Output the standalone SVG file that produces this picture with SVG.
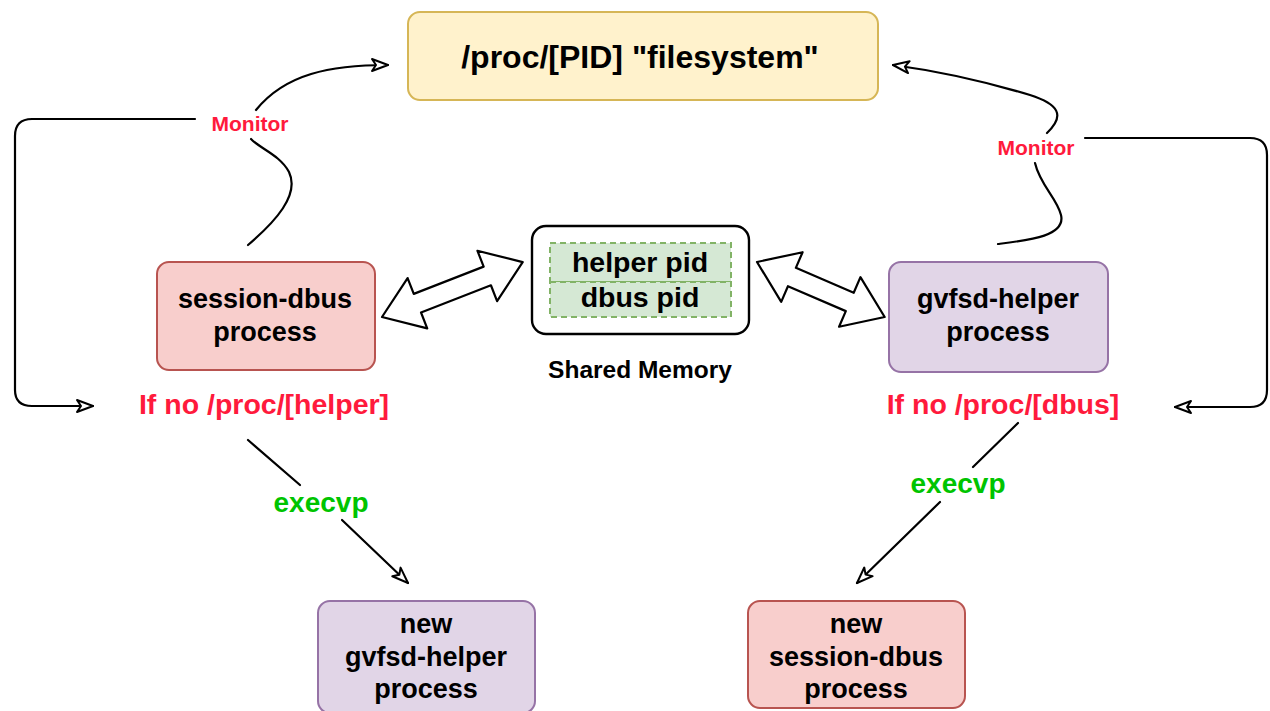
<svg xmlns="http://www.w3.org/2000/svg" width="1270" height="711" viewBox="0 0 1270 711">
<style>
text{font-family:"Liberation Sans",Arial,sans-serif;font-weight:bold;text-anchor:middle}
.t{font-size:27px;fill:#000}
.red{fill:#ff1a3c}
.grn{fill:#00c400;font-size:28px}
.mon{font-size:21px;fill:#ff1a3c}
.ln{fill:none;stroke:#000;stroke-width:2.2;stroke-linecap:round}
.blk{fill:#fff;stroke:#000;stroke-width:2.2;stroke-linejoin:round}
</style>
<defs>
<marker id="ah" markerUnits="userSpaceOnUse" markerWidth="20" markerHeight="16" viewBox="0 0 20 16" refX="18" refY="8" orient="auto">
<path d="M2,2 L18,8 L2,14 L6,8 Z" fill="#fff" stroke="#000" stroke-width="2" stroke-linejoin="round"/>
</marker>
</defs>

<g id="proc-fs">
<rect x="408" y="12" width="470" height="88" rx="12" fill="#fff2cc" stroke="#d6b656" stroke-width="2"/>
<text x="640" y="68" style="font-size:32px">/proc/[PID] "filesystem"</text>
</g>

<g id="session-dbus">
<rect x="157" y="262" width="218" height="108" rx="12" fill="#f8cecc" stroke="#b85450" stroke-width="2"/>
<text class="t" x="265" y="308">session-dbus</text>
<text class="t" x="265" y="341">process</text>
</g>

<g id="gvfsd-helper">
<rect x="889" y="262" width="219" height="110" rx="12" fill="#e1d5e7" stroke="#9673a6" stroke-width="2"/>
<text class="t" x="998" y="308">gvfsd-helper</text>
<text class="t" x="998" y="341">process</text>
</g>

<g id="shared-memory">
<rect x="532" y="226" width="217" height="108" rx="14" fill="#fff" stroke="#000" stroke-width="2.4"/>
<rect x="550" y="243" width="181" height="39" fill="#d5e8d4" stroke="#82b366" stroke-width="2" stroke-dasharray="6 4"/>
<rect x="550" y="282" width="181" height="35" fill="#d5e8d4" stroke="#82b366" stroke-width="2" stroke-dasharray="6 4"/>
<text x="640" y="272" style="font-size:28.5px">helper pid</text>
<text x="640" y="307" style="font-size:28.5px">dbus pid</text>
<text x="640" y="378" style="font-size:24.5px">Shared Memory</text>
</g>

<g id="cond-helper">
<text class="red" x="264" y="414" style="font-size:28.5px">If no /proc/[helper]</text>
</g>
<g id="cond-dbus">
<text class="red" x="1003" y="414" style="font-size:28.5px">If no /proc/[dbus]</text>
</g>

<g id="new-gvfsd-helper">
<rect x="318" y="601" width="217" height="112" rx="12" fill="#e1d5e7" stroke="#9673a6" stroke-width="2"/>
<text class="t" x="426" y="633">new</text>
<text class="t" x="426" y="666">gvfsd-helper</text>
<text class="t" x="426" y="698">process</text>
</g>

<g id="new-session-dbus">
<rect x="748" y="601" width="217" height="107" rx="12" fill="#f8cecc" stroke="#b85450" stroke-width="2"/>
<text class="t" x="856" y="633">new</text>
<text class="t" x="856" y="666">session-dbus</text>
<text class="t" x="856" y="698">process</text>
</g>

<g id="connectors">
<!-- block double arrows -->
<polygon class="blk" transform="translate(382,317) rotate(-21.3)" points="0,0 38,-27 38,-10 113,-10 113,-27 151,0 113,27 113,10 38,10 38,27"/>
<polygon class="blk" transform="translate(757,262) rotate(23.3)" points="0,0 38,-27 38,-10 101,-10 101,-27 139,0 101,27 101,10 38,10 38,27"/>

<!-- left monitor -->
<path class="ln" d="M248,245 C275,222 300,195 289,172 C280,155 259,148 251,139"/>
<path class="ln" d="M256,110 C285,74 330,65 388,65" marker-end="url(#ah)"/>
<text class="mon" x="250" y="131">Monitor</text>

<!-- left loop -->
<path class="ln" d="M195,119 L32,119 Q15,119 15,136 L15,390 Q15,406 32,406 L93,406" marker-end="url(#ah)"/>

<!-- right monitor -->
<path class="ln" d="M998,244 C1030,240 1066,236 1061,215 C1057,198 1040,185 1035,163"/>
<path class="ln" d="M1047,133 C1066,115 1058,104 1030,95 C980,80 930,70 893,65" marker-end="url(#ah)"/>
<text class="mon" x="1036" y="155">Monitor</text>

<!-- right loop -->
<path class="ln" d="M1085,138 L1250,138 Q1267,138 1267,155 L1267,390 Q1267,407 1250,407 L1175,407" marker-end="url(#ah)"/>

<!-- execvp left -->
<path class="ln" d="M248,440 L300,485"/>
<path class="ln" d="M342,520 L408,583" marker-end="url(#ah)"/>
<text class="grn" x="321" y="512">execvp</text>

<!-- execvp right -->
<path class="ln" d="M1018,423 L973,467"/>
<path class="ln" d="M940,502 L857,583" marker-end="url(#ah)"/>
<text class="grn" x="958" y="493">execvp</text>
</g>
</svg>
